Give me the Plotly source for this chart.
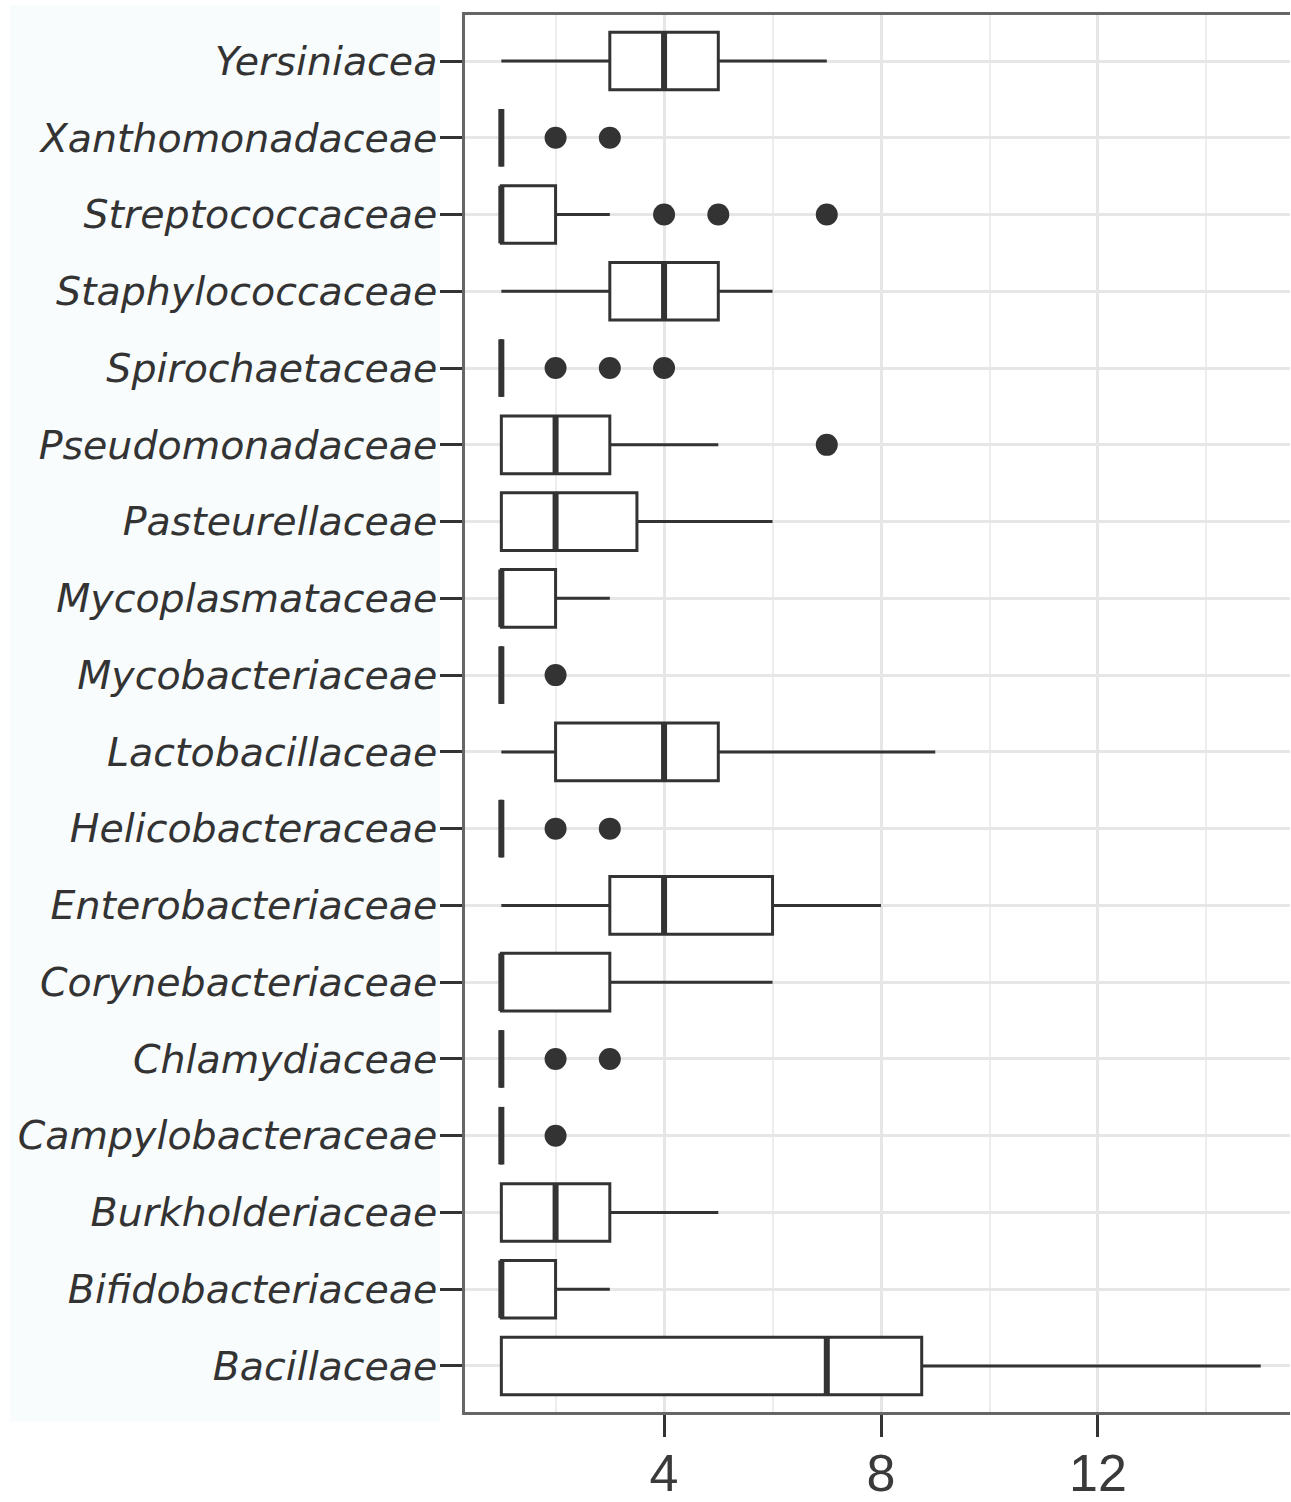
import plotly.graph_objects as go

# ---- data (bottom -> top) ----
families = ["Bacillaceae", "Bifidobacteriaceae", "Burkholderiaceae", "Campylobacteraceae",
            "Chlamydiaceae", "Corynebacteriaceae", "Enterobacteriaceae", "Helicobacteraceae",
            "Lactobacillaceae", "Mycobacteriaceae", "Mycoplasmataceae", "Pasteurellaceae",
            "Pseudomonadaceae", "Spirochaetaceae", "Staphylococcaceae", "Streptococcaceae",
            "Xanthomonadaceae", "Yersiniacea"]
lower  = [1, 1, 1, 1, 1, 1, 1, 1, 1, 1, 1, 1, 1, 1, 1, 1, 1, 1]
q1     = [1, 1, 1, 1, 1, 1, 3, 1, 2, 1, 1, 1, 1, 1, 3, 1, 1, 3]
median = [7, 1, 2, 1, 1, 1, 4, 1, 4, 1, 1, 2, 2, 1, 4, 1, 1, 4]
q3     = [8.75, 2, 3, 1, 1, 3, 6, 1, 5, 1, 2, 3.5, 3, 1, 5, 2, 1, 5]
upper  = [15, 3, 5, 1, 1, 6, 8, 1, 9, 1, 3, 6, 5, 1, 6, 3, 1, 7]
outliers = [[], [], [], [2], [2, 3], [], [], [2, 3], [], [2], [], [], [7],
            [2, 3, 4], [], [4, 5, 7], [2, 3], []]
x_ticks = [4, 8, 12]

pos = list(range(len(families)))
ink = "#333333"
box_w = 0.75

fig = go.Figure()

fig.add_trace(go.Box(
    y=pos, q1=q1, median=median, q3=q3, lowerfence=lower, upperfence=upper,
    orientation="h", width=box_w, whiskerwidth=0,
    fillcolor="white", line=dict(color=ink, width=3),
    boxpoints=False, showlegend=False, hoverinfo="skip"))

# thicker median line (ggplot style)
mx, my = [], []
for p, m in zip(pos, median):
    mx += [m, m, None]
    my += [p - box_w / 2, p + box_w / 2, None]
fig.add_trace(go.Scatter(x=mx, y=my, mode="lines",
                         line=dict(color=ink, width=6), showlegend=False, hoverinfo="skip"))

# outliers
ox, oy = [], []
for p, outs in zip(pos, outliers):
    for v in outs:
        ox.append(v)
        oy.append(p)
fig.add_trace(go.Scatter(x=ox, y=oy, mode="markers",
                         marker=dict(color=ink, size=22, line=dict(width=0)),
                         showlegend=False))

fig.update_layout(
    width=1291, height=1502,
    margin=dict(l=465, r=1, t=15, b=90),
    paper_bgcolor="white", plot_bgcolor="white",
    shapes=[dict(type="rect", xref="paper", yref="paper",
                 x0=-0.5515, x1=-0.0303, y0=-0.007, y1=1.007,
                 fillcolor="#f8fcfd", line=dict(width=0), layer="below")],
)

fig.update_xaxes(
    range=[0.33, 15.54], tickvals=x_ticks, ticktext=[str(v) for v in x_ticks],
    automargin=False, ticklabelstandoff=-8,
    showgrid=True, gridcolor="#e6e6e6", gridwidth=2.5,
    minor=dict(tick0=2, dtick=4, showgrid=True, gridcolor="#ededed", gridwidth=2),
    zeroline=False, showline=True, linecolor="#666666", linewidth=2.5, mirror=True,
    ticks="outside", ticklen=22, tickwidth=3, tickcolor=ink,
    tickfont=dict(family="Liberation Sans", size=52, color="#3a3a3a"),
)
fig.update_yaxes(
    range=[-0.6, len(families) - 0.4], tickvals=pos, ticktext=families,
    automargin=False, ticklabelstandoff=-5,
    showgrid=True, gridcolor="#e6e6e6", gridwidth=2.5,
    zeroline=False, showline=True, linecolor="#666666", linewidth=2.5, mirror=False,
    ticks="outside", ticklen=22, tickwidth=3, tickcolor=ink,
    tickfont=dict(family="DejaVu Sans", size=39.5, color="#333333", style="italic"),
)

fig.write_html("out.html")
